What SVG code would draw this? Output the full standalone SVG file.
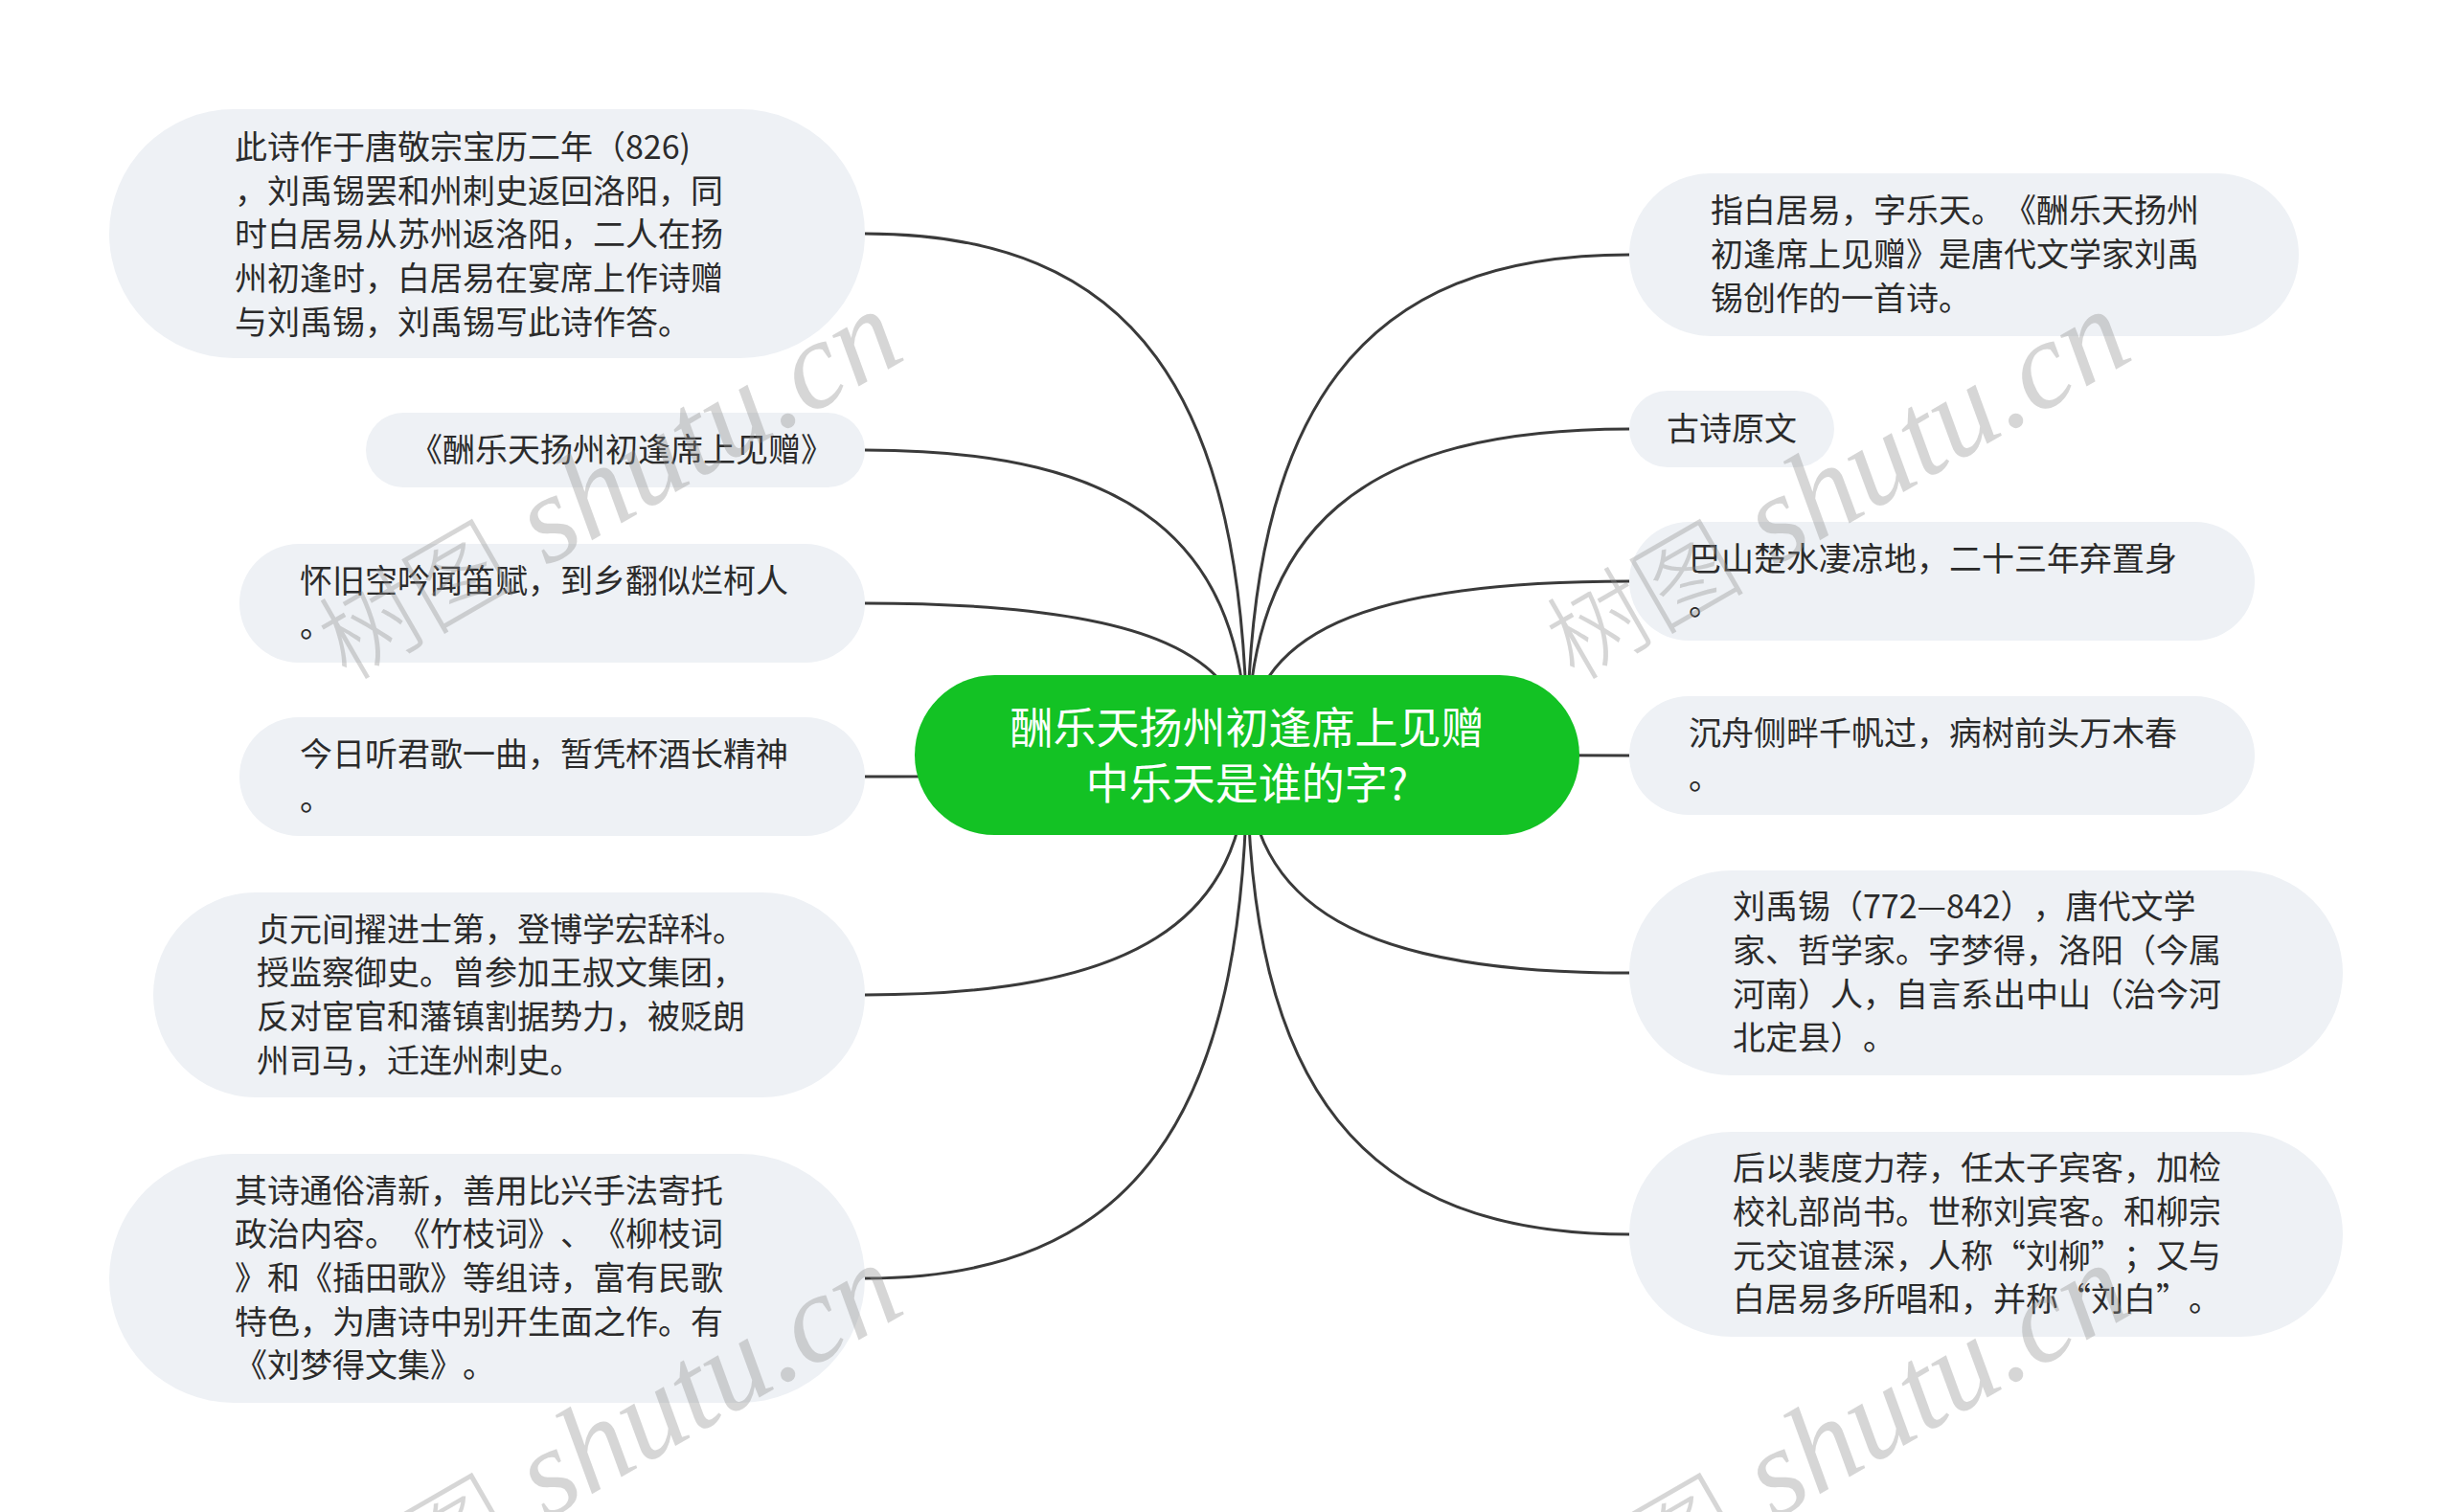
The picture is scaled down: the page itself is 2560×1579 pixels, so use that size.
<svg xmlns="http://www.w3.org/2000/svg" width="2560" height="1579" viewBox="0 0 2560 1579">
<style>
.bg{fill:#ffffff}
.node rect{fill:#eef1f5}
.node text{font-family:"Noto Sans CJK SC","Noto Sans",sans-serif;font-size:34px;fill:#2b2b2b;text-spacing-trim:space-all}
#center rect{fill:#13c224}
#center text{font-family:"Noto Sans CJK SC","Noto Sans",sans-serif;font-size:45px;fill:#ffffff;text-anchor:middle;text-spacing-trim:space-all}
#connectors path{fill:none;stroke:#3a3a3a;stroke-width:3}
.wm{font-family:"Liberation Serif","Noto Sans CJK SC",serif;font-style:italic;font-size:130px;fill:#8c8c8c;fill-opacity:0.36}
.wm .cjk{font-family:"Noto Sans CJK SC",serif;font-style:normal;font-size:104px;font-weight:300}
</style>
<rect class="bg" x="0" y="0" width="2560" height="1579"/>
<g id="connectors">
<path d="M903 244 C1182 244 1302 407 1302 788"/>
<path d="M903 470 C1182 470 1302 565 1302 788"/>
<path d="M903 630 C1182 630 1302 677 1302 788"/>
<path d="M903 811 C1182 811 1302 804 1302 788"/>
<path d="M903 1039 C1182 1039 1302 964 1302 788"/>
<path d="M903 1335 C1182 1335 1302 1171 1302 788"/>
<path d="M1701 266 C1422 266 1302 423 1302 788"/>
<path d="M1701 448 C1422 448 1302 550 1302 788"/>
<path d="M1701 607 C1422 607 1302 661 1302 788"/>
<path d="M1701 789 C1422 789 1302 789 1302 788"/>
<path d="M1701 1016 C1422 1016 1302 948 1302 788"/>
<path d="M1701 1289 C1422 1289 1302 1139 1302 788"/>
</g>
<g id="center">
<rect x="955" y="705" width="694" height="167" rx="83.5"/>
<text x="1302" y="777">酬乐天扬州初逢席上见赠</text>
<text x="1302" y="835">中乐天是谁的字?</text>
</g>
<g id="n-l1" class="node">
<rect x="114" y="114" width="789" height="260" rx="130"/>
<text x="245" y="166">此诗作于唐敬宗宝历二年（826)</text>
<text x="245" y="212">，刘禹锡罢和州刺史返回洛阳，同</text>
<text x="245" y="257">时白居易从苏州返洛阳，二人在扬</text>
<text x="245" y="303">州初逢时，白居易在宴席上作诗赠</text>
<text x="245" y="349">与刘禹锡，刘禹锡写此诗作答。</text>
</g>
<g id="n-l2" class="node">
<rect x="382" y="431" width="521" height="78" rx="39"/>
<text x="428" y="482">《酬乐天扬州初逢席上见赠》</text>
</g>
<g id="n-l3" class="node">
<rect x="250" y="568" width="653" height="124" rx="62"/>
<text x="313" y="619">怀旧空吟闻笛赋，到乡翻似烂柯人</text>
<text x="313" y="665">。</text>
</g>
<g id="n-l4" class="node">
<rect x="250" y="749" width="653" height="124" rx="62"/>
<text x="313" y="800">今日听君歌一曲，暂凭杯酒长精神</text>
<text x="313" y="846">。</text>
</g>
<g id="n-l5" class="node">
<rect x="160" y="932" width="743" height="214" rx="107"/>
<text x="268" y="983">贞元间擢进士第，登博学宏辞科。</text>
<text x="268" y="1028">授监察御史。曾参加王叔文集团，</text>
<text x="268" y="1074">反对宦官和藩镇割据势力，被贬朗</text>
<text x="268" y="1120">州司马，迁连州刺史。</text>
</g>
<g id="n-l6" class="node">
<rect x="114" y="1205" width="789" height="260" rx="130"/>
<text x="245" y="1256">其诗通俗清新，善用比兴手法寄托</text>
<text x="245" y="1301">政治内容。《竹枝词》、《柳枝词</text>
<text x="245" y="1347">》和《插田歌》等组诗，富有民歌</text>
<text x="245" y="1393">特色，为唐诗中别开生面之作。有</text>
<text x="245" y="1438">《刘梦得文集》。</text>
</g>
<g id="n-r1" class="node">
<rect x="1701" y="181" width="699" height="170" rx="85"/>
<text x="1786" y="232">指白居易，字乐天。《酬乐天扬州</text>
<text x="1786" y="278">初逢席上见赠》是唐代文学家刘禹</text>
<text x="1786" y="324">锡创作的一首诗。</text>
</g>
<g id="n-r2" class="node">
<rect x="1701" y="408" width="214" height="80" rx="40"/>
<text x="1740" y="460">古诗原文</text>
</g>
<g id="n-r3" class="node">
<rect x="1701" y="545" width="653" height="124" rx="62"/>
<text x="1763" y="596">巴山楚水凄凉地，二十三年弃置身</text>
<text x="1763" y="642">。</text>
</g>
<g id="n-r4" class="node">
<rect x="1701" y="727" width="653" height="124" rx="62"/>
<text x="1763" y="778">沉舟侧畔千帆过，病树前头万木春</text>
<text x="1763" y="824">。</text>
</g>
<g id="n-r5" class="node">
<rect x="1701" y="909" width="745" height="214" rx="107"/>
<text x="1809" y="959">刘禹锡（772—842），唐代文学</text>
<text x="1809" y="1005">家、哲学家。字梦得，洛阳（今属</text>
<text x="1809" y="1051">河南）人，自言系出中山（治今河</text>
<text x="1809" y="1096">北定县）。</text>
</g>
<g id="n-r6" class="node">
<rect x="1701" y="1182" width="745" height="214" rx="107"/>
<text x="1809" y="1232">后以裴度力荐，任太子宾客，加检</text>
<text x="1809" y="1278">校礼部尚书。世称刘宾客。和柳宗</text>
<text x="1809" y="1324">元交谊甚深，人称“刘柳”；又与</text>
<text x="1809" y="1369">白居易多所唱和，并称“刘白”。</text>
</g>
<g id="watermarks">
<text class="wm" transform="translate(362 712) rotate(-30)"><tspan class="cjk">树图</tspan> shutu.cn</text>
<text class="wm" transform="translate(1644 712) rotate(-30)"><tspan class="cjk">树图</tspan> shutu.cn</text>
<text class="wm" transform="translate(362 1708) rotate(-30)"><tspan class="cjk">树图</tspan> shutu.cn</text>
<text class="wm" transform="translate(1644 1708) rotate(-30)"><tspan class="cjk">树图</tspan> shutu.cn</text>
</g>
</svg>
